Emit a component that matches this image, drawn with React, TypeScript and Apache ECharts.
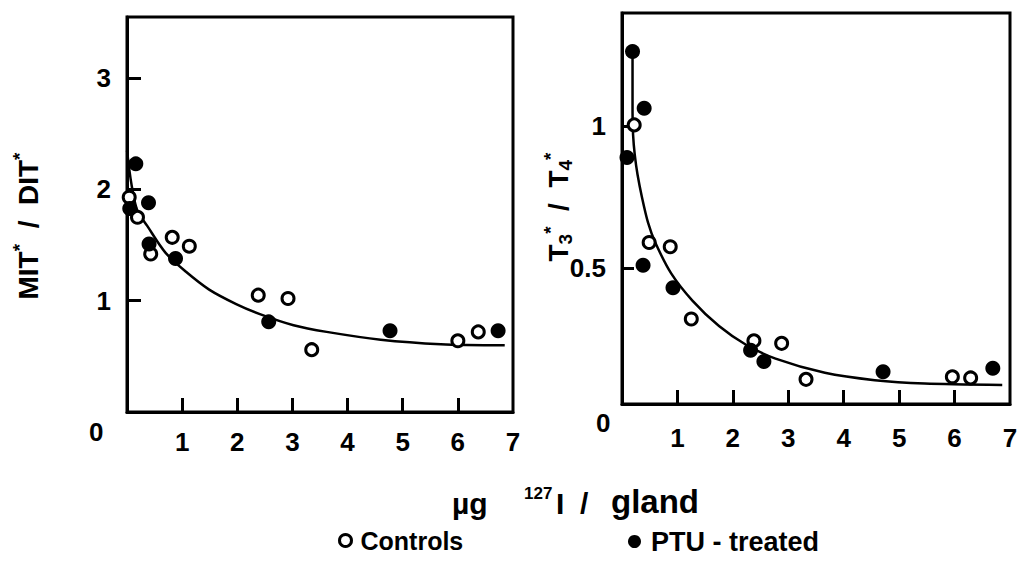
import React, { useEffect, useRef } from "react";
import * as echarts from "echarts";

// ---- Left panel: MIT* / DIT* ----
const leftCtrlX = [0.04, 0.19, 0.43, 0.82, 1.13, 2.38, 2.92, 3.35, 6.0, 6.37];
const leftCtrlY = [1.93, 1.75, 1.42, 1.57, 1.49, 1.05, 1.02, 0.56, 0.64, 0.72];
const leftPtuX = [0.05, 0.16, 0.39, 0.4, 0.88, 2.57, 4.77, 6.73];
const leftPtuY = [1.83, 2.23, 1.88, 1.51, 1.38, 0.81, 0.73, 0.73];
const leftFitX = [0.0, 0.08, 0.18, 0.37, 0.7, 1.07, 1.49, 1.98, 2.41, 3.02, 3.62, 4.6, 5.69, 6.85];
const leftFitY = [2.35, 2.05, 1.82, 1.67, 1.43, 1.26, 1.1, 0.97, 0.88, 0.78, 0.72, 0.65, 0.61, 0.6];

// ---- Right panel: T3* / T4* ----
const rightCtrlX = [0.22, 0.49, 0.87, 1.25, 2.38, 2.88, 3.32, 5.96, 6.29];
const rightCtrlY = [1.005, 0.59, 0.575, 0.32, 0.243, 0.234, 0.107, 0.116, 0.112];
const rightPtuX = [0.09, 0.19, 0.4, 0.38, 0.92, 2.32, 2.56, 4.71, 6.69];
const rightPtuY = [0.89, 1.264, 1.064, 0.51, 0.43, 0.21, 0.17, 0.134, 0.146];
const rightFitX = [0.19, 0.19, 0.2, 0.23, 0.28, 0.36, 0.47, 0.6, 0.89, 1.27, 1.75, 2.23, 2.77, 3.66, 4.56, 5.46, 6.86];
const rightFitY = [1.26, 1.05, 0.97, 0.9, 0.83, 0.75, 0.66, 0.59, 0.48, 0.385, 0.295, 0.23, 0.18, 0.13, 0.104, 0.092, 0.087];

// ---- Tick labels ----
const xTickLabels = [1, 2, 3, 4, 5, 6, 7];
const xTickMarks = [1, 2, 3, 4, 5, 6];
const leftYTicks = [1, 2, 3];
const rightYTicks = [0.5, 1];

const pair = (xs: number[], ys: number[]) => xs.map((x, i) => [x, ys[i]]);

const FONT = "'Liberation Sans', Arial, sans-serif";

export default function App() {
  const ref = useRef<HTMLDivElement>(null);

  useEffect(() => {
    if (!ref.current) return;
    const chart = echarts.init(ref.current, undefined, { renderer: "svg" });

    const labelStyle = {
      fontFamily: FONT,
      fontWeight: "bold" as const,
      fontSize: 26,
      color: "#000",
    };
    const tickStyle = { show: true, inside: true, length: 14, lineStyle: { color: "#000", width: 3 } };
    const lineAxis = { show: true, lineStyle: { color: "#000", width: 3 } };

    const hollow = { color: "#fff", borderColor: "#000", borderWidth: 3, opacity: 1 };
    const filled = { color: "#000", opacity: 1 };

    const option: any = {
      animation: false,
      backgroundColor: "#fff",
      grid: [
        { left: 127, top: 17, width: 386, height: 395, show: true, borderColor: "#000", borderWidth: 3, backgroundColor: "transparent" },
        { left: 622, top: 13, width: 388, height: 391, show: true, borderColor: "#000", borderWidth: 3, backgroundColor: "transparent" },
      ],
      xAxis: [0, 1].map((g) => ({
        type: "value",
        gridIndex: g,
        min: 0,
        max: 7,
        axisLine: lineAxis,
        axisTick: { ...tickStyle, customValues: xTickMarks },
        axisLabel: { ...labelStyle, margin: g === 0 ? 17 : 21, customValues: xTickLabels },
        splitLine: { show: false },
      })),
      yAxis: [
        {
          type: "value",
          gridIndex: 0,
          min: 0,
          max: 3.55,
          axisLine: lineAxis,
          axisTick: { ...tickStyle, customValues: leftYTicks },
          axisLabel: { ...labelStyle, margin: 16, customValues: leftYTicks },
          splitLine: { show: false },
        },
        {
          type: "value",
          gridIndex: 1,
          min: 0.02,
          max: 1.4,
          axisLine: lineAxis,
          axisTick: { ...tickStyle, length: 12, customValues: rightYTicks },
          axisLabel: { ...labelStyle, margin: 16, customValues: rightYTicks, formatter: (v: number) => String(v) },
          splitLine: { show: false },
        },
      ],
      legend: [
        {
          data: [{ name: "Controls", itemStyle: hollow }],
          left: 333,
          top: 523,
          itemWidth: 12,
          itemHeight: 12,
          icon: "circle",
          textStyle: { fontFamily: FONT, fontWeight: "bold", fontSize: 25, color: "#000", padding: [0, 0, 0, 4] },
          selectedMode: false,
        },
        {
          data: [{ name: "PTU - treated", itemStyle: filled }],
          left: 623,
          top: 523,
          itemWidth: 13,
          itemHeight: 13,
          icon: "circle",
          textStyle: { fontFamily: FONT, fontWeight: "bold", fontSize: 27, color: "#000", padding: [0, 0, 0, 5] },
          selectedMode: false,
        },
      ],
      series: [
        {
          name: "fitLeft",
          type: "line",
          xAxisIndex: 0,
          yAxisIndex: 0,
          data: pair(leftFitX, leftFitY),
          smooth: 0.3,
          symbol: "none",
          lineStyle: { color: "#000", width: 2.5 },
          z: 2,
        },
        {
          name: "fitRight",
          type: "line",
          xAxisIndex: 1,
          yAxisIndex: 1,
          data: pair(rightFitX, rightFitY),
          smooth: 0.25,
          symbol: "none",
          lineStyle: { color: "#000", width: 2.5 },
          z: 2,
        },
        {
          name: "Controls",
          type: "scatter",
          xAxisIndex: 0,
          yAxisIndex: 0,
          data: pair(leftCtrlX, leftCtrlY),
          symbol: "circle",
          symbolSize: 12,
          itemStyle: hollow,
          z: 3,
        },
        {
          name: "PTU - treated",
          type: "scatter",
          xAxisIndex: 0,
          yAxisIndex: 0,
          data: pair(leftPtuX, leftPtuY),
          symbol: "circle",
          symbolSize: 15,
          itemStyle: filled,
          z: 4,
        },
        {
          name: "Controls",
          type: "scatter",
          xAxisIndex: 1,
          yAxisIndex: 1,
          data: pair(rightCtrlX, rightCtrlY),
          symbol: "circle",
          symbolSize: 12,
          itemStyle: hollow,
          z: 3,
        },
        {
          name: "PTU - treated",
          type: "scatter",
          xAxisIndex: 1,
          yAxisIndex: 1,
          data: pair(rightPtuX, rightPtuY),
          symbol: "circle",
          symbolSize: 15,
          itemStyle: filled,
          z: 4,
        },
      ],
      graphic: [
        // origin "0" labels
        { type: "text", left: 89, top: 419, style: { text: "0", font: `bold 26px ${FONT}`, fill: "#000" } },
        { type: "text", left: 596, top: 410, style: { text: "0", font: `bold 26px ${FONT}`, fill: "#000" } },
        // left y title
        {
          type: "text",
          x: 26,
          y: 226,
          rotation: Math.PI / 2,
          style: {
            text: "{b|MIT}{s|*}{b|  /  DIT}{s|*}",
            align: "center",
            verticalAlign: "middle",
            fill: "#000",
            rich: {
              b: { fontFamily: FONT, fontWeight: "bold", fontSize: 28, lineHeight: 32, verticalAlign: "bottom" },
              s: { fontFamily: FONT, fontWeight: "bold", fontSize: 19, lineHeight: 14, verticalAlign: "top" },
            },
          },
        },
        // right y title
        {
          type: "text",
          x: 558,
          y: 207,
          rotation: Math.PI / 2,
          style: {
            text: "{b|T}{sub|3}{s|*}{b|  /  T}{sub|4}{s|*}",
            align: "center",
            verticalAlign: "middle",
            fill: "#000",
            rich: {
              b: { fontFamily: FONT, fontWeight: "bold", fontSize: 28, lineHeight: 34, verticalAlign: "middle" },
              sub: { fontFamily: FONT, fontWeight: "bold", fontSize: 19, lineHeight: 17, verticalAlign: "bottom" },
              s: { fontFamily: FONT, fontWeight: "bold", fontSize: 19, lineHeight: 14, verticalAlign: "top" },
            },
          },
        },
        // x axis title: µg 127I / gland
        { type: "text", left: 452, top: 488, style: { text: "µg", font: `bold 30px ${FONT}`, fill: "#000" } },
        { type: "text", left: 524, top: 485, style: { text: "127", font: `bold 17px ${FONT}`, fill: "#000" } },
        { type: "text", left: 556, top: 488, style: { text: "I", font: `bold 30px ${FONT}`, fill: "#000" } },
        { type: "text", left: 580, top: 488, style: { text: "/", font: `bold 30px ${FONT}`, fill: "#000" } },
        { type: "text", left: 611, top: 485, style: { text: "gland", font: `bold 33px ${FONT}`, fill: "#000" } },
      ],
    };

    chart.setOption(option);
    return () => chart.dispose();
  }, []);

  return (
    <div
      ref={ref}
      style={{ position: "absolute", left: 0, top: 0, width: 1021, height: 578, background: "#fff" }}
    />
  );
}
